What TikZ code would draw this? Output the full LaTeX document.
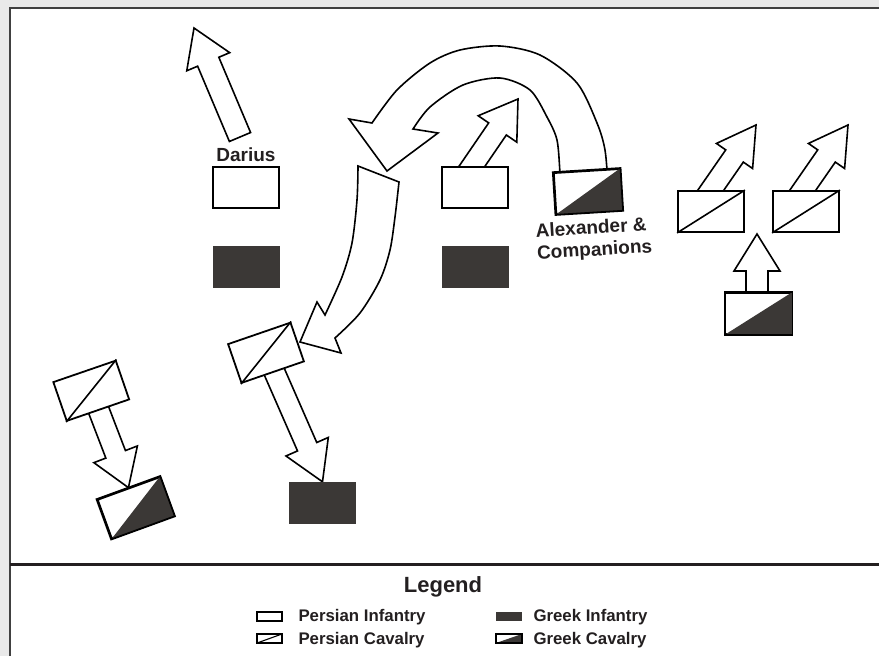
\documentclass[tikz,border=0pt]{standalone}
\usepackage{fontspec}
\setmainfont{Liberation Sans}
\usepackage{tikz}
\usetikzlibrary{calc,positioning,backgrounds}

\definecolor{unitdark}{HTML}{3B3836}
\definecolor{inkdark}{HTML}{231F20}
\definecolor{bggray}{HTML}{E9E9E9}

\newcommand{\blockarrow}[5]{%
  \path ($(#2)!#5!(#1)$) coordinate (hb);
  \draw[arr] ($(#1)!#3!-90:(#2)$) -- ($(hb)!#3!-90:(#2)$) -- ($(hb)!#4!-90:(#2)$) -- (#2)
    -- ($(hb)!#4!90:(#2)$) -- ($(hb)!#3!90:(#2)$) -- ($(#1)!#3!90:(#2)$) -- cycle;}

\begin{document}
\begin{tikzpicture}[x=1pt,y=-1pt,
    arr/.style={draw=black,fill=white,line width=1.6pt,line join=miter},
    unit/.style={rectangle,draw=black,fill=white,line width=1.8pt,inner sep=0pt,minimum width=66pt,minimum height=41pt},
    greekinf/.style={rectangle,fill=unitdark,inner sep=0pt,minimum width=67pt,minimum height=42pt},
    lbl/.style={text=inkdark,font=\bfseries\fontsize{19}{22}\selectfont},
    key/.style={text=inkdark,font=\bfseries\fontsize{16.8}{18}\selectfont,anchor=base west},
    icon/.style={draw=black,line width=1.1pt}]
    \useasboundingbox (0,0) rectangle (879,656);

    \node[unit] (darius) at (246,187.5) {};
    \node[greekinf] (gi1) at (246.5,267) {};
    \node[unit] (pi2) at (475,187.5) {};
    \node[greekinf] (gi2) at (475.5,267) {};
    \node[unit,rotate=3.5] (alex) at (588,191.5) {};
    \node[unit] (pc3) at (711,211.5) {};
    \node[unit] (pc4) at (806,211.5) {};
    \node[unit] (gc2) at (758.5,313.5) {};
    \node[unit,rotate=19] (pc1) at (91.25,390.75) {};
    \node[unit,rotate=20] (gc1) at (135.75,507.75) {};
    \node[unit,rotate=19] (pc2) at (266,352.75) {};
    \node[greekinf] (gi3) at (322.5,503) {};

    \foreach \u in {pc1,pc2,pc3,pc4}
        \draw[line width=1.6pt] (\u.south west) -- (\u.north east);
    \foreach \u in {alex,gc1,gc2} {
        \fill[unitdark] (\u.south west) -- (\u.south east) -- (\u.north east) -- cycle;
        \draw[line width=1.8pt,line join=miter] (\u.south west) -- (\u.south east) -- (\u.north east) -- (\u.north west) -- cycle;
    }

    \node[lbl,above=1pt of darius] (dariuslbl) {Darius};
    \node[lbl,rotate=3.5,align=left] (alexlbl) at (594,240) {Alexander \&\\Companions};

    \draw[draw=black!75,line width=2pt] (10,656) -- (10,8) -- (879,8);
    \draw[inkdark,line width=3pt] (10,564) -- (879,564);

    \node[text=inkdark,font=\bfseries\fontsize{22}{24}\selectfont] (legend) at (443,587) {Legend};
    \draw[icon,fill=white] (257,612) rectangle (282,621);
    \node[key] (kpi) at (295,621) {Persian Infantry};
    \draw[icon,fill=white] (257,634) rectangle (282,643);
    \draw[icon] (257,643) -- (282,634);
    \node[key] (kpc) at (295,644) {Persian Cavalry};
    \fill[unitdark] (496,612) rectangle (522,621);
    \node[key] (kgi) at (530,621) {Greek Infantry};
    \draw[icon,fill=white] (496,634) rectangle (522,643);
    \fill[unitdark] (496,643) -- (522,643) -- (522,634) -- cycle;
    \draw[icon] (496,634) rectangle (522,643);
    \node[key] (kgc) at (530,644) {Greek Cavalry};

    \begin{scope}[on background layer]
        \fill[bggray] (0,0) rectangle (879,656);
        \fill[white] (10,8) rectangle (879,656);
        \draw[arr] plot[smooth] coordinates {(608,185) (605,150) (597,123) (577,83) (540,55) (500,46) (460,50) (430,63) (397,90) (372,123)}
            -- (349,119) -- (387,171) -- (438,133) -- (413,129)
            -- plot[smooth] coordinates {(413,129) (430,107) (463,85) (500,78) (530,90) (547,117) (557,140) (560,173) (561,185)} -- cycle;
        \draw[arr] (358,166) -- (399,182)
            -- plot[smooth] coordinates {(399,182) (395,217) (390,250) (380,280) (360,313) (335,338)}
            -- (341,353) -- (300,342) -- (317,302) -- (325,315)
            -- plot[smooth] coordinates {(325,315) (342,277) (352,243) (357,200) (358,166)} -- cycle;
        \blockarrow{240,137}{194,28}{11.5pt}{23.3pt}{36.6pt}
        \blockarrow{466,175}{518,99}{10.7pt}{23.4pt}{36.3pt}
        \blockarrow{704,200}{756,125}{10.7pt}{22pt}{37.7pt}
        \blockarrow{796,200}{848,125}{10.7pt}{22pt}{37.7pt}
        \blockarrow{757,310}{757,234}{11pt}{23pt}{37pt}
        \blockarrow{pc1.center}{gc1.north}{10.5pt}{23.3pt}{35.7pt}
        \blockarrow{pc2.center}{gi3.north}{10.5pt}{23.1pt}{38.3pt}
    \end{scope}
\end{tikzpicture}
\end{document}
